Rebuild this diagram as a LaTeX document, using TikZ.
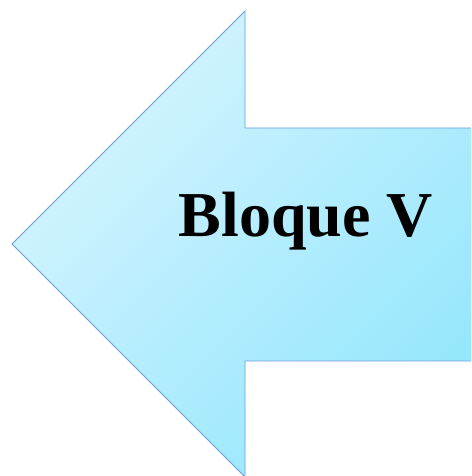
\documentclass[tikz,border=0pt]{standalone}
\usepackage{fontspec}
\setmainfont{Liberation Serif}
\definecolor{lightc}{HTML}{D6F4FF}
\definecolor{darkc}{HTML}{96E7FC}
\definecolor{edgec}{HTML}{6C9CD6}
\tikzset{arrowshape/.style={draw=edgec, line width=0.9pt, top color=lightc, bottom color=darkc, shading angle=45},
  label/.style={font=\fontsize{64}{70}\selectfont\bfseries, text=black, inner sep=0pt, anchor=base}}
\begin{document}
\begin{tikzpicture}[x=1pt,y=1pt]
\useasboundingbox (0,0) rectangle (471,476);
\begin{scope}
\clip (0,0) rectangle (471,476);
\shade[top color=lightc, bottom color=darkc, shading angle=45]
  (472,348) -- (245,348) -- (245,465) -- (12,232) -- (245,-1) -- (245,115) -- (472,115) -- cycle;
\draw[draw=edgec, line width=0.9pt]
  (472,348) -- (245,348) -- (245,465) -- (12,232) -- (245,-1) -- (245,115) -- (472,115);
\end{scope}
\node[label] (t) at (306,239) {Bloque V};
\end{tikzpicture}
\end{document}
